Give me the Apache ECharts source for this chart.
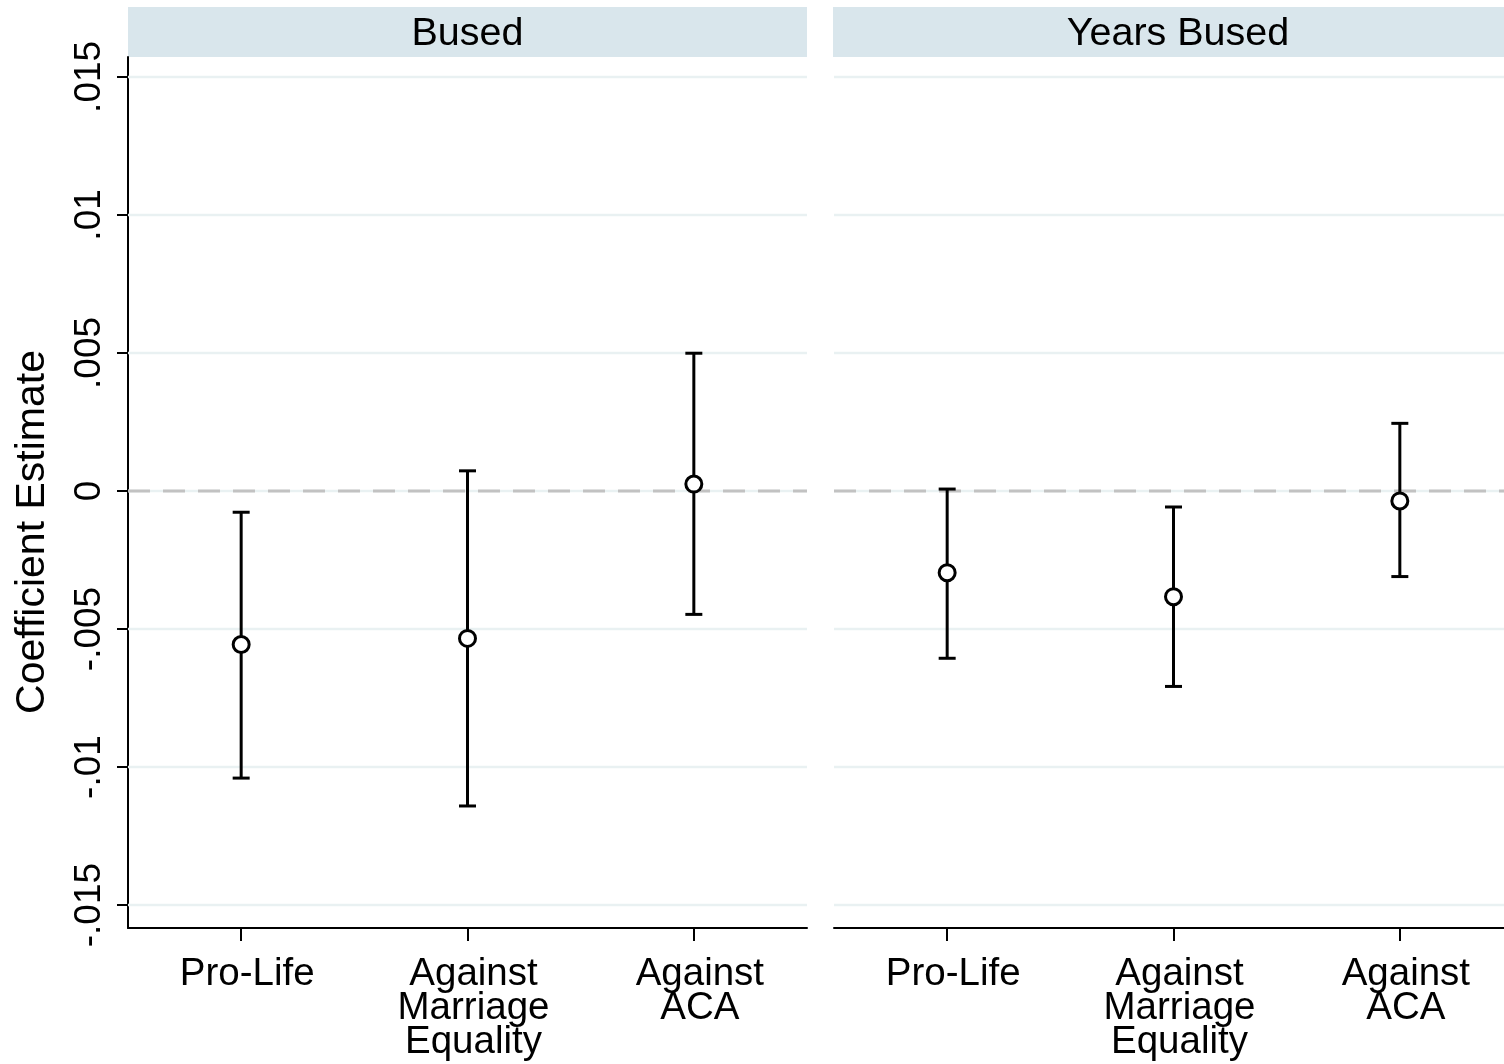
<!DOCTYPE html>
<html>
<head>
<meta charset="utf-8">
<script src="https://cdn.jsdelivr.net/npm/echarts@6/dist/echarts.min.js"></script>
<style>html,body{margin:0;padding:0;background:#fff;}#chart{width:1504px;height:1064px;}</style>
</head>
<body>
<div id="chart"></div>
<script>
const categories = ['Pro-Life', 'Against\nMarriage\nEquality', 'Against\nACA'];
const panelTitles = ['Bused', 'Years Bused'];
const bused_est  = [-0.00556, -0.00534, 0.00025];
const bused_low  = [-0.01040, -0.01141, -0.00447];
const bused_high = [-0.00077, 0.00073, 0.00499];
const years_est  = [-0.00296, -0.00383, -0.00036];
const years_low  = [-0.00606, -0.00708, -0.00310];
const years_high = [0.00007, -0.00058, 0.00245];
const yTicks = [-0.015, -0.01, -0.005, 0, 0.005, 0.01, 0.015];
const yTickLabels = ['-.015', '-.01', '-.005', '0', '.005', '.01', '.015'];
const refLine = [0];
const yMin = -0.01583, yMax = 0.01572;
const yTitle = 'Coefficient Estimate';

const FONT = 'Liberation Sans, Arial, Helvetica, sans-serif';

function fmtY(v) {
  for (let i = 0; i < yTicks.length; i++) {
    if (Math.abs(yTicks[i] - v) < 1e-9) return yTickLabels[i];
  }
  return '';
}

function renderErr(params, api) {
  const x = api.value(0);
  const lo = api.coord([x, api.value(1)]);
  const hi = api.coord([x, api.value(2)]);
  const hw = 8.5;
  const style = { stroke: '#000', lineWidth: 3, fill: null };
  return {
    type: 'group',
    children: [
      { type: 'line', shape: { x1: lo[0], y1: lo[1], x2: hi[0], y2: hi[1] }, style: style },
      { type: 'line', shape: { x1: lo[0] - hw, y1: lo[1], x2: lo[0] + hw, y2: lo[1] }, style: style },
      { type: 'line', shape: { x1: hi[0] - hw, y1: hi[1], x2: hi[0] + hw, y2: hi[1] }, style: style }
    ]
  };
}

function makeHLine(styleObj) {
  return function (params, api) {
    const cs = params.coordSys;
    const p = api.coord([0, api.value(0)]);
    return {
      type: 'line',
      shape: { x1: cs.x, y1: p[1], x2: cs.x + cs.width, y2: p[1] },
      style: styleObj
    };
  };
}

const panels = [
  { est: bused_est, low: bused_low, high: bused_high },
  { est: years_est, low: years_low, high: years_high }
];
const gridPos = [
  { left: 128, top: 57, width: 679, height: 871 },
  { left: 834, top: 57, width: 679, height: 871 }
];

const option = {
  animation: false,
  backgroundColor: '#fff',
  grid: gridPos.map(g => Object.assign({ containLabel: false, outerBoundsMode: 'none' }, g)),
  xAxis: gridPos.map((g, i) => ({
    type: 'category',
    gridIndex: i,
    data: categories,
    boundaryGap: true,
    axisLine: { show: true, onZero: false, lineStyle: { color: '#000', width: 2 } },
    axisTick: { show: true, alignWithLabel: true, length: 13, lineStyle: { color: '#000', width: 2 } },
    axisLabel: { color: '#000', fontSize: 38.5, lineHeight: 34, fontFamily: FONT, margin: 29, interval: 0, padding: [0, 0, 0, 12] },
    splitLine: { show: false }
  })),
  yAxis: gridPos.map((g, i) => ({
    type: 'value',
    gridIndex: i,
    min: yMin,
    max: yMax,
    axisLine: { show: i === 0, onZero: false, lineStyle: { color: '#000', width: 2 } },
    axisTick: { show: i === 0, length: 11, customValues: yTicks, lineStyle: { color: '#000', width: 2 } },
    axisLabel: { show: i === 0, customValues: yTicks, rotate: 90, color: '#000', fontSize: 37, fontFamily: FONT, margin: 20, formatter: fmtY },
    splitLine: { show: false }
  })),
  graphic: [
    { type: 'rect', shape: { x: 128, y: 7, width: 679, height: 50 }, style: { fill: '#d9e6ec' }, z: 0 },
    { type: 'rect', shape: { x: 833, y: 7, width: 700, height: 50 }, style: { fill: '#d9e6ec' }, z: 0 },
    { type: 'text', x: 467.5, y: 34, style: { text: panelTitles[0], fill: '#000', font: '39.5px ' + FONT, textAlign: 'center', textVerticalAlign: 'middle' }, z: 1 },
    { type: 'text', x: 1178, y: 34, style: { text: panelTitles[1], fill: '#000', font: '39.5px ' + FONT, textAlign: 'center', textVerticalAlign: 'middle' }, z: 1 },
    { type: 'text', x: 33, y: 532, rotation: Math.PI / 2, style: { text: yTitle, fill: '#000', font: '41px ' + FONT, textAlign: 'center', textVerticalAlign: 'middle' }, z: 1 }
  ],
  series: []
};

panels.forEach((p, i) => {
  option.series.push({
    type: 'custom',
    xAxisIndex: i,
    yAxisIndex: i,
    renderItem: makeHLine({ stroke: '#e9f1f2', lineWidth: 2.5 }),
    z: 1,
    silent: true,
    data: yTicks.map(v => [v])
  });
  option.series.push({
    type: 'custom',
    xAxisIndex: i,
    yAxisIndex: i,
    renderItem: makeHLine({ stroke: '#c2c2c2', lineWidth: 3, lineDash: [22, 13] }),
    z: 2,
    silent: true,
    data: refLine.map(v => [v])
  });
  option.series.push({
    type: 'custom',
    xAxisIndex: i,
    yAxisIndex: i,
    renderItem: renderErr,
    z: 3,
    silent: true,
    data: categories.map((c, k) => [k, p.low[k], p.high[k]])
  });
  option.series.push({
    type: 'scatter',
    xAxisIndex: i,
    yAxisIndex: i,
    z: 4,
    silent: true,
    symbol: 'circle',
    symbolSize: 16,
    itemStyle: { color: '#fff', borderColor: '#000', borderWidth: 3, opacity: 1 },
    data: categories.map((c, k) => [k, p.est[k]])
  });
});

const chart = echarts.init(document.getElementById('chart'), null, { renderer: 'canvas' });
chart.setOption(option);
</script>
</body>
</html>
